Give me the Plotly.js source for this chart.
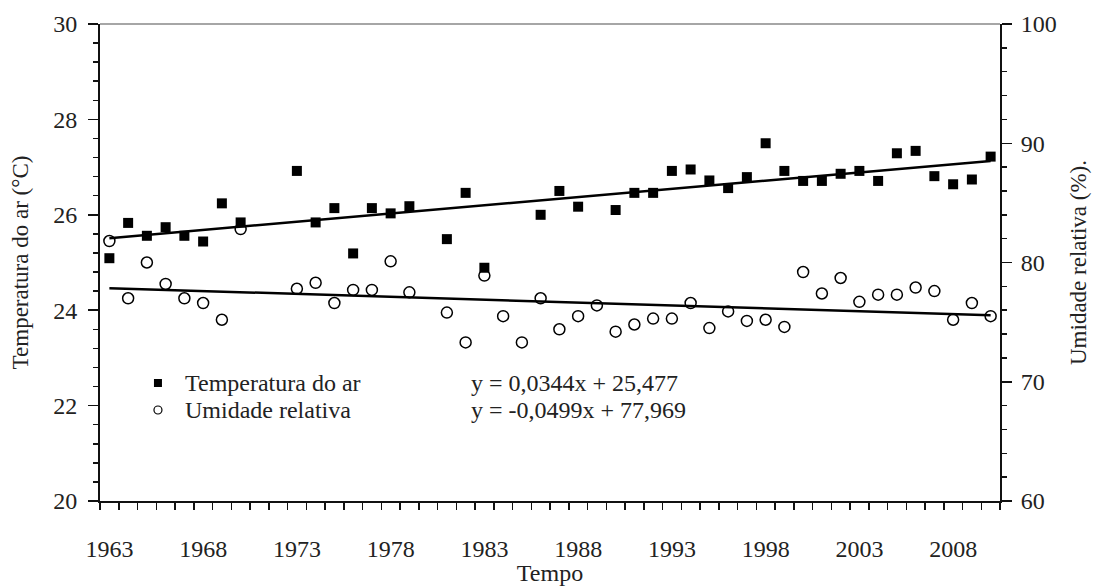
<!DOCTYPE html>
<html>
<head>
<meta charset="utf-8">
<script src="https://cdn.plot.ly/plotly-3.0.1.min.js"></script>
<style>html,body{margin:0;padding:0;background:#fff;}#chart{width:1096px;height:586px;}</style>
</head>
<body>
<div id="chart"></div>
<script>
// Temperature (°C), left axis
const tempYears = [1963,1964,1965,1966,1967,1968,1969,1970,1973,1974,1975,1976,1977,1978,1979,1981,1982,1983,1986,1987,1988,1990,1991,1992,1993,1994,1995,1996,1997,1998,1999,2000,2001,2002,2003,2004,2005,2006,2007,2008,2009,2010];
const tempValues = [25.09,25.83,25.56,25.74,25.56,25.44,26.24,25.84,26.92,25.84,26.14,25.19,26.14,26.03,26.18,25.49,26.46,24.89,26.00,26.50,26.17,26.10,26.46,26.46,26.92,26.95,26.72,26.56,26.79,27.50,26.92,26.71,26.71,26.86,26.92,26.71,27.29,27.34,26.81,26.64,26.74,27.22];
// Relative humidity (%), right axis
const humYears = [1963,1964,1965,1966,1967,1968,1969,1970,1973,1974,1975,1976,1977,1978,1979,1981,1982,1983,1984,1985,1986,1987,1988,1989,1990,1991,1992,1993,1994,1995,1996,1997,1998,1999,2000,2001,2002,2003,2004,2005,2006,2007,2008,2009,2010];
const humValues = [81.8,77.0,80.0,78.2,77.0,76.6,75.2,82.8,77.8,78.3,76.6,77.7,77.7,80.1,77.5,75.8,73.3,78.9,75.5,73.3,77.0,74.4,75.5,76.4,74.2,74.8,75.3,75.3,76.6,74.5,75.9,75.1,75.2,74.6,79.2,77.4,78.7,76.7,77.3,77.3,77.9,77.6,75.2,76.6,75.5];
// Trend lines (end points)
const trendYears = [1963, 2010];
const tempTrend = [25.51, 27.13];
const humTrend = [77.85, 75.58];
// Labels
const xTickVals = [1963,1968,1973,1978,1983,1988,1993,1998,2003,2008];
const xTickText = xTickVals.map(String);
const tempName = 'Temperatura do ar';
const humName = 'Umidade relativa';
const tempEq = 'y = 0,0344x + 25,477';
const humEq = 'y = -0,0499x + 77,969';

const FONT = '"Liberation Serif", "Times New Roman", serif';
const TXT = '#222';

const traces = [
  {x: trendYears, y: tempTrend, mode: 'lines', line: {color: '#000', width: 2.5}, showlegend: false, hoverinfo: 'skip'},
  {x: trendYears, y: humTrend, yaxis: 'y2', mode: 'lines', line: {color: '#000', width: 2.5}, showlegend: false, hoverinfo: 'skip'},
  {x: tempYears, y: tempValues, name: tempName, mode: 'markers', showlegend: false, marker: {symbol: 'square', size: 10, color: '#000'}},
  {x: humYears, y: humValues, name: humName, yaxis: 'y2', mode: 'markers', showlegend: false, marker: {symbol: 'circle-open', size: 11, color: '#000', line: {width: 1.5, color: '#000'}}}
];

// legend rows (paper coords)
const legX = 0.0644, legTextX = 0.092, eqX = 0.41, row1 = 0.2474, row2 = 0.1908;
const annFont = {family: FONT, size: 24, color: TXT};

const layout = {
  width: 1096, height: 586,
  margin: {l: 100, r: 96, t: 24, b: 85},
  paper_bgcolor: '#fff', plot_bgcolor: '#fff',
  font: {family: FONT, color: TXT, size: 24},
  showlegend: false,
  xaxis: {
    range: [1962.5, 2010.5], showgrid: false, zeroline: false,
    showline: true, linecolor: '#111', linewidth: 2,
    tickmode: 'array', tickvals: xTickVals, ticktext: xTickText,
    ticks: 'outside', ticklen: 0, ticklabelstandoff: 25,
    tickfont: {family: FONT, size: 24, color: TXT},
    minor: {tickmode: 'linear', tick0: 1962.5, dtick: 1, ticks: 'outside', ticklen: 7, tickwidth: 1.5, tickcolor: '#111', showgrid: false},
    title: {text: 'Tempo', font: {family: FONT, size: 24, color: TXT}, standoff: 6}
  },
  yaxis: {
    range: [20, 30], showgrid: false, zeroline: false,
    showline: true, linecolor: '#111', linewidth: 2,
    tickmode: 'linear', tick0: 20, dtick: 2,
    ticks: 'outside', ticklen: 10, tickwidth: 1.5, tickcolor: '#111',
    tickfont: {family: FONT, size: 24, color: TXT}, ticklabelstandoff: 6,
    minor: {tickmode: 'linear', tick0: 20, dtick: 0.4, ticks: 'outside', ticklen: 5, tickwidth: 1.5, tickcolor: '#111', showgrid: false},
    title: {text: 'Temperatura do ar (°C)', font: {family: FONT, size: 23, color: TXT}, standoff: 18}
  },
  yaxis2: {
    range: [60, 100], overlaying: 'y', side: 'right', showgrid: false, zeroline: false,
    showline: true, linecolor: '#111', linewidth: 2,
    tickmode: 'linear', tick0: 60, dtick: 10,
    ticks: 'outside', ticklen: 10, tickwidth: 1.5, tickcolor: '#111',
    tickfont: {family: FONT, size: 24, color: TXT}, ticklabelstandoff: 4,
    minor: {tickmode: 'linear', tick0: 60, dtick: 2, ticks: 'outside', ticklen: 5, tickwidth: 1.5, tickcolor: '#111', showgrid: false},
    title: {text: 'Umidade relativa (%).', font: {family: FONT, size: 23, color: TXT}, standoff: 14}
  },
  shapes: [
    {type: 'line', xref: 'paper', yref: 'paper', x0: 0, x1: 1, y0: 1, y1: 1, line: {color: '#888', width: 1.5}},
    {type: 'rect', xref: 'paper', yref: 'paper', xsizemode: 'pixel', ysizemode: 'pixel', xanchor: legX, yanchor: row1, x0: -4, x1: 4, y0: -4, y1: 4, fillcolor: '#000', line: {width: 0}},
    {type: 'circle', xref: 'paper', yref: 'paper', xsizemode: 'pixel', ysizemode: 'pixel', xanchor: legX, yanchor: row2, x0: -4, x1: 4, y0: -4, y1: 4, fillcolor: 'rgba(0,0,0,0)', line: {color: '#000', width: 1.2}}
  ],
  annotations: [
    {text: tempName, xref: 'paper', yref: 'paper', x: legTextX, y: row1, xanchor: 'left', yanchor: 'middle', showarrow: false, font: annFont},
    {text: humName, xref: 'paper', yref: 'paper', x: legTextX, y: row2, xanchor: 'left', yanchor: 'middle', showarrow: false, font: annFont},
    {text: tempEq, xref: 'paper', yref: 'paper', x: eqX, y: row1, xanchor: 'left', yanchor: 'middle', showarrow: false, font: annFont},
    {text: humEq, xref: 'paper', yref: 'paper', x: eqX, y: row2, xanchor: 'left', yanchor: 'middle', showarrow: false, font: annFont}
  ]
};

Plotly.newPlot('chart', traces, layout, {staticPlot: true, displayModeBar: false});
</script>
</body>
</html>
